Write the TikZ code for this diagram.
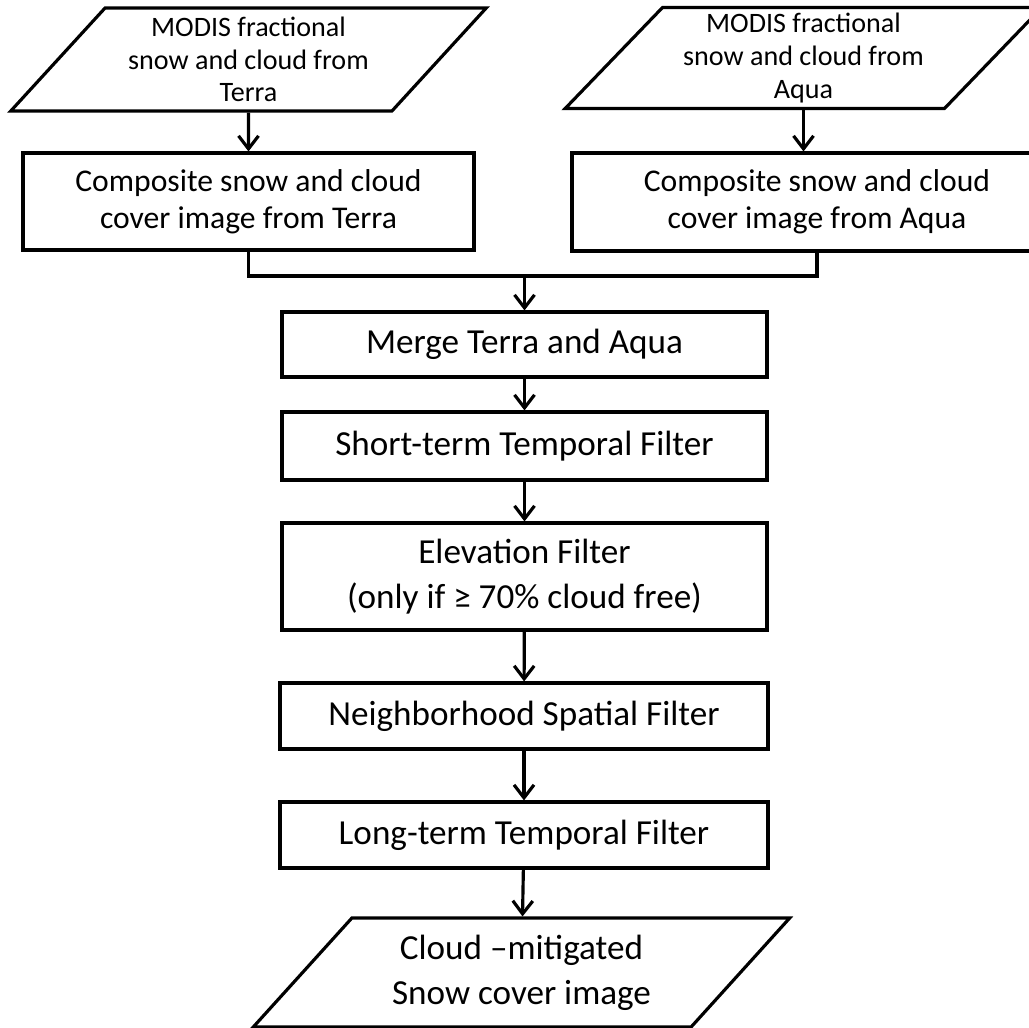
\documentclass[tikz,border=0pt]{standalone}
\usepackage{fontspec}
\setmainfont{Carlito}
\usetikzlibrary{shapes.geometric,arrows.meta}

\begin{document}
\begin{tikzpicture}[x=0.02cm,y=-0.02cm,line width=1.8pt,
    >={Straight Barb[length=2.6mm,width=4mm]},
    proc/.style={draw,rectangle,align=center,inner sep=0pt},
    iobox/.style={draw,trapezium,trapezium stretches=true,align=center,inner sep=0pt,
      trapezium left angle=47,trapezium right angle=133},
    small/.style={font=\fontsize{16}{18.5}\selectfont},
    mid/.style={font=\fontsize{18}{21}\selectfont},
    big/.style={font=\fontsize{20}{25.5}\selectfont}]
  \useasboundingbox (0,0) rectangle (1029,1028);
  \clip (0,0) rectangle (1029,1028);
  \draw
    (248.5,59.5) node[iobox,small,minimum width=9.54cm,minimum height=2.06cm] (terrain)
      {MODIS fractional\\snow and cloud from\\Terra}
    (803.5,58) node[iobox,small,minimum width=9.54cm,minimum height=2.02cm] (aquain)
      {MODIS fractional\\snow and cloud from\\Aqua}
    (248.5,201.5) node[proc,mid,minimum width=9.02cm,minimum height=1.94cm] (terra)
      {Composite snow and cloud\\cover image from Terra}
    (817,202) node[proc,mid,minimum width=9.8cm,minimum height=1.96cm] (aqua)
      {Composite snow and cloud\\cover image from Aqua}
    (524.5,344.5) node[proc,big,minimum width=9.7cm,minimum height=1.3cm] (merge)
      {Merge Terra and Aqua}
    (524.5,446) node[proc,big,minimum width=9.7cm,minimum height=1.36cm] (short)
      {Short-term Temporal Filter}
    (524.5,576.5) node[proc,big,minimum width=9.7cm,minimum height=2.14cm] (elev)
      {Elevation Filter\\(only if ≥ 70\% cloud free)}
    (524,716) node[proc,big,minimum width=9.76cm,minimum height=1.32cm] (neigh)
      {Neighborhood Spatial Filter}
    (524,835) node[proc,big,minimum width=9.76cm,minimum height=1.32cm] (long)
      {Long-term Temporal Filter}
    (521.5,972.5) node[iobox,big,minimum width=10.74cm,minimum height=2.18cm,
      trapezium left angle=45,trapezium right angle=135] (out)
      {Cloud –mitigated\\Snow cover image};
  \coordinate (jn) at (524.5,276);
  \draw (terra.south) |- (jn) -| (aqua.south);
  \begin{scope}[->]
    \draw (terrain) to (terra);
    \draw (aquain.south) to (aquain.south |- aqua.north);
    \draw (jn) to (merge);
    \draw (merge) to (short);
    \draw (short) to (elev);
    \draw (elev) to (neigh);
    \draw (neigh) to (long);
    \draw (long) to (out);
  \end{scope}
\end{tikzpicture}
\end{document}
